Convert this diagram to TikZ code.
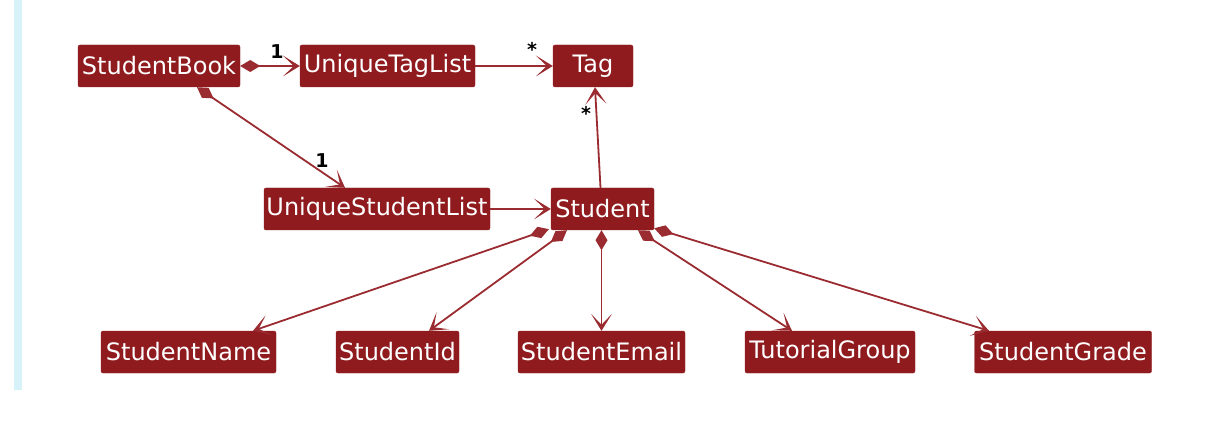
\documentclass[tikz,border=0pt]{standalone}
\usepackage{fontspec}
\setmainfont{DejaVu Sans}
\usetikzlibrary{arrows.meta,calc}
\definecolor{boxred}{HTML}{8F1B1E}
\definecolor{linered}{HTML}{9A2B30}
\definecolor{stripe}{HTML}{D8F2FA}
\tikzset{
  cls/.style={fill=boxred, draw=boxred, rounded corners=2pt, text=white, inner sep=0pt,
    minimum height=42pt, font=\fontsize{24}{26}\selectfont, anchor=center},
  vtip/.tip={Stealth[length=17pt,width=21pt,inset=11pt,fill=linered]},
  assoc/.style={draw=linered, line width=1.8pt, -vtip},
  comp/.style={draw=linered, line width=1.8pt,
    {Diamond[length=20pt,width=12pt,fill=linered]}-vtip},
  mult/.style={text=black, font=\bfseries\fontsize{19}{21}\selectfont, inner sep=0pt}
}
\begin{document}
\begin{tikzpicture}[x=1pt,y=-1pt]
\useasboundingbox (0,0) rectangle (1222,438);
\fill[stripe] (14,0) rectangle (22,390);
% top row
\node[cls, minimum width=162pt] (sb) at (159,66) {StudentBook};
\node[cls, minimum width=175pt] (utl) at (387.5,66) {UniqueTagList};
\node[cls, minimum width=80pt] (tag) at (593,66) {Tag};
% middle row
\node[cls, minimum width=226pt] (usl) at (377,209) {UniqueStudentList};
\node[cls, minimum width=103pt] (st) at (602.5,209) {Student};
% bottom row
\node[cls, minimum width=175pt] (sn) at (188.5,352) {StudentName};
\node[cls, minimum width=123pt] (sid) at (397.5,352) {StudentId};
\node[cls, minimum width=167pt] (se) at (601.5,352) {StudentEmail};
\node[cls, minimum width=170pt] (tg) at (830,352) {TutorialGroup};
\node[cls, minimum width=177pt] (sg) at (1063,352) {StudentGrade};
% connectors
\draw[comp] (sb.east) -- (utl.west);
\draw[assoc] (utl.east) -- (tag.west);
\draw[comp] ([xshift=38pt]sb.south) -- ([xshift=-32pt]usl.north);
\draw[assoc] ([xshift=-2pt]st.north) -- ([xshift=2pt]tag.south);
\draw[assoc] (usl.east) -- (st.west);
\draw[comp] ([xshift=-2pt,yshift=1pt]st.south west) -- ([xshift=64.5pt]sn.north);
\draw[comp] ([xshift=-35.5pt]st.south) -- ([xshift=31.5pt]sid.north);
\draw[comp] ([xshift=-1pt]st.south) -- (se.north);
\draw[comp] ([xshift=35.5pt]st.south) -- ([xshift=-38pt]tg.north);
\draw[comp] ([yshift=2pt]st.south east) -- ([xshift=-74pt]sg.north);
% multiplicities
\node[mult] (m1) at (277,52) {1};
\node[mult] (m2) at (532,49) {*};
\node[mult] (m3) at (322,161) {1};
\node[mult] (m4) at (586,113) {*};
\end{tikzpicture}
\end{document}
